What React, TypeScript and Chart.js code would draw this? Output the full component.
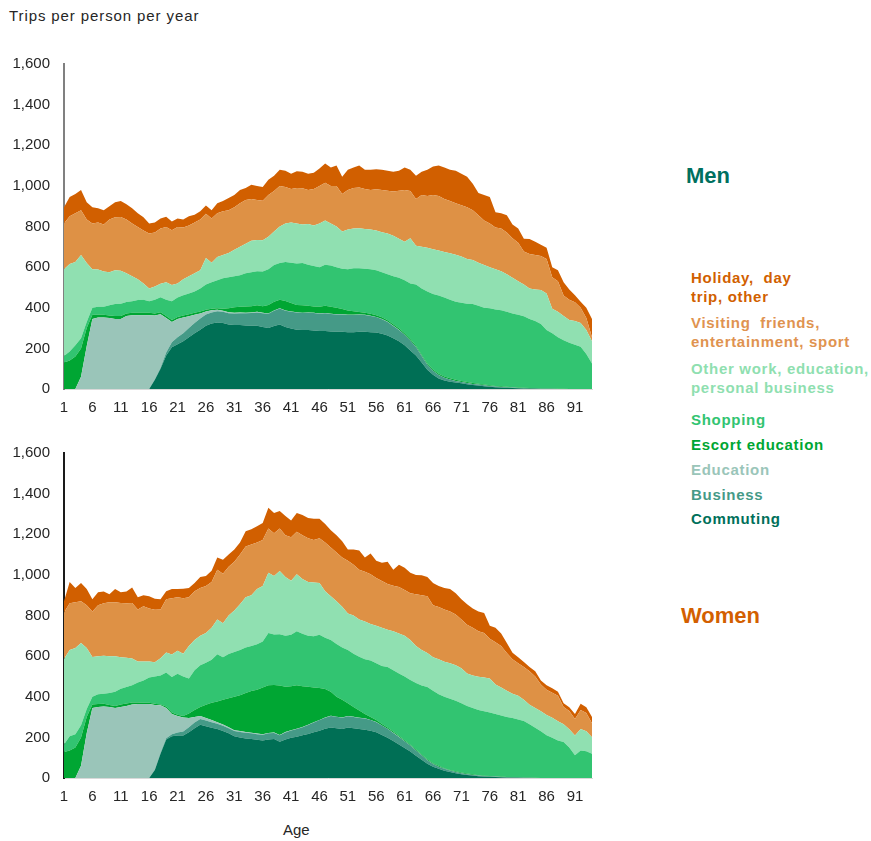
import React, { useEffect, useRef } from 'react';
import { Chart, registerables } from 'chart.js';

Chart.register(...registerables);

// Age categories (1..94)
const ages = [
  1, 2, 3, 4, 5, 6, 7, 8, 9, 10,
  11, 12, 13, 14, 15, 16, 17, 18, 19, 20,
  21, 22, 23, 24, 25, 26, 27, 28, 29, 30,
  31, 32, 33, 34, 35, 36, 37, 38, 39, 40,
  41, 42, 43, 44, 45, 46, 47, 48, 49, 50,
  51, 52, 53, 54, 55, 56, 57, 58, 59, 60,
  61, 62, 63, 64, 65, 66, 67, 68, 69, 70,
  71, 72, 73, 74, 75, 76, 77, 78, 79, 80,
  81, 82, 83, 84, 85, 86, 87, 88, 89, 90,
  91, 92, 93, 94,
];
const tickAges = [1, 6, 11, 16, 21, 26, 31, 36, 41, 46, 51, 56, 61, 66, 71, 76, 81, 86, 91];
const yTicks = [0, 200, 400, 600, 800, 1000, 1200, 1400, 1600];

const seriesNames = [
  'Commuting',
  'Business',
  'Education',
  'Escort education',
  'Shopping',
  'Other work, education, personal business',
  'Visiting friends, entertainment, sport',
  'Holiday, day trip, other',
];
const seriesColors = ['#006f55', '#459a87', '#9ac5b9', '#00a633', '#32c471', '#90e0b1', '#de9145', '#d15f00'];

// ---------------- Men (trips per person per year) ----------------
const menCommuting = [
  0, 0, 0, 0, 0, 0, 0, 0, 0, 0,
  0, 0, 0, 0, 0, 0, 45, 100, 165, 205,
  220, 235, 255, 275, 292, 312, 322, 328, 325, 318,
  315, 315, 313, 312, 312, 305, 300, 310, 318, 305,
  298, 292, 290, 290, 288, 285, 285, 283, 282, 282,
  280, 280, 282, 282, 280, 278, 272, 264, 250, 235,
  215, 190, 165, 130, 95, 70, 52, 42, 36, 32,
  28, 24, 20, 17, 14, 11, 9, 7, 6, 5,
  4, 3, 2, 2, 1, 1, 1, 0, 0, 0,
  0, 0, 0, 0,
];
const menBusiness = [
  0, 0, 0, 0, 0, 0, 0, 0, 0, 0,
  0, 0, 0, 0, 0, 0, 3, 5, 15, 25,
  35, 40, 45, 50, 55, 55, 55, 55, 55, 55,
  57, 58, 60, 62, 65, 68, 70, 75, 78, 80,
  82, 85, 85, 86, 86, 86, 88, 86, 85, 85,
  84, 84, 84, 82, 80, 76, 72, 66, 60, 56,
  52, 49, 42, 32, 24, 20, 17, 14, 11, 8,
  7, 6, 5, 5, 4, 4, 3, 3, 2, 2,
  1, 1, 1, 1, 0, 0, 0, 0, 0, 0,
  0, 0, 0, 0,
];
const menEducation = [
  0, 0, 0, 60, 210, 345, 352, 352, 350, 345,
  345, 360, 363, 363, 363, 363, 314, 263, 170, 100,
  90, 77, 58, 40, 25, 15, 11, 7, 5, 5,
  4, 4, 3, 3, 3, 2, 2, 2, 2, 2,
  1, 1, 1, 1, 1, 1, 1, 1, 1, 1,
  1, 1, 1, 1, 1, 1, 1, 1, 1, 1,
  0, 0, 0, 0, 0, 0, 0, 0, 0, 0,
  0, 0, 0, 0, 0, 0, 0, 0, 0, 0,
  0, 0, 0, 0, 0, 0, 0, 0, 0, 0,
  0, 0, 0, 0,
];
const menEscort = [
  130, 140, 160, 140, 90, 20, 13, 13, 12, 15,
  15, 12, 12, 12, 12, 12, 10, 10, 10, 10,
  10, 10, 10, 10, 10, 8, 7, 8, 10, 20,
  26, 28, 30, 31, 32, 33, 42, 42, 41, 46,
  43, 36, 36, 33, 31, 33, 36, 35, 32, 26,
  22, 18, 12, 10, 9, 8, 8, 8, 8, 7,
  7, 7, 6, 6, 6, 6, 6, 6, 6, 5,
  5, 5, 5, 4, 4, 4, 3, 3, 3, 2,
  2, 2, 2, 1, 1, 1, 1, 1, 1, 0,
  0, 0, 0, 0,
];
const menShopping = [
  32, 45, 55, 50, 30, 35, 40, 40, 50, 58,
  60, 56, 57, 63, 65, 57, 68, 74, 80, 92,
  95, 100, 102, 105, 113, 125, 130, 137, 150, 152,
  153, 155, 164, 167, 168, 170, 176, 181, 181, 192,
  198, 204, 208, 202, 199, 195, 202, 203, 200, 198,
  203, 212, 216, 217, 220, 222, 222, 226, 236, 249,
  261, 274, 302, 327, 355, 372, 385, 388, 387, 385,
  385, 385, 388, 384, 378, 379, 377, 375, 369, 363,
  358, 352, 340, 331, 318, 288, 273, 254, 239, 228,
  218, 208, 172, 125,
];
const menOtherWork = [
  428, 430, 410, 410, 290, 190, 183, 173, 163, 167,
  162, 142, 123, 102, 80, 63, 65, 66, 85, 80,
  70, 78, 85, 90, 90, 130, 97, 115, 115, 120,
  130, 140, 145, 155, 153, 154, 160, 165, 180, 190,
  198, 197, 190, 200, 200, 215, 218, 207, 200, 183,
  195, 195, 197, 196, 195, 195, 197, 200, 200, 192,
  190, 222, 190, 205, 215, 220, 222, 225, 228, 231,
  227, 220, 217, 212, 210, 202, 198, 192, 185, 176,
  165, 157, 150, 155, 167, 180, 120, 125, 120, 112,
  117, 117, 118, 110,
];
const menVisiting = [
  225, 235, 240, 220, 215, 225, 232, 232, 260, 260,
  265, 265, 260, 258, 260, 271, 265, 272, 273, 270,
  278, 255, 250, 250, 250, 218, 218, 215, 215, 210,
  210, 215, 215, 205, 197, 195, 205, 200, 200, 180,
  165, 175, 178, 168, 180, 185, 186, 185, 200, 185,
  195, 200, 200, 197, 195, 203, 208, 211, 217, 236,
  255, 233, 230, 255, 255, 267, 268, 260, 257, 254,
  253, 255, 245, 233, 220, 215, 205, 210, 205, 194,
  190, 162, 170, 170, 168, 170, 155, 150, 100, 100,
  92, 75, 60, 20,
];
const menHoliday = [
  80, 95, 95, 100, 85, 80, 70, 70, 65, 75,
  78, 75, 75, 67, 65, 49, 50, 50, 50, 43,
  42, 40, 45, 38, 40, 40, 40, 50, 50, 60,
  60, 65, 60, 70, 70, 68, 75, 75, 80, 80,
  75, 82, 82, 80, 80, 85, 94, 90, 100, 85,
  100, 100, 108, 95, 100, 99, 100, 99, 98, 99,
  110, 105, 115, 115, 130, 140, 150, 155, 155, 160,
  155, 150, 130, 110, 125, 130, 75, 75, 85, 68,
  70, 63, 73, 65, 55, 55, 50, 55, 65, 50,
  35, 30, 50, 90,
];

// ---------------- Women (trips per person per year) ----------------
const womenCommuting = [
  0, 0, 0, 0, 0, 0, 0, 0, 0, 0,
  0, 0, 0, 0, 0, 0, 40, 120, 190, 205,
  209, 209, 225, 245, 262, 255, 248, 241, 232, 220,
  205, 200, 195, 192, 188, 185, 190, 192, 178, 190,
  198, 203, 210, 217, 225, 233, 242, 249, 245, 241,
  249, 245, 241, 238, 233, 225, 212, 198, 182, 165,
  148, 130, 110, 90, 70, 55, 45, 36, 30, 24,
  19, 15, 12, 9, 7, 6, 5, 4, 3, 2,
  2, 1, 1, 0, 0, 0, 0, 0, 0, 0,
  0, 0, 0, 0,
];
const womenBusiness = [
  0, 0, 0, 0, 0, 0, 0, 0, 0, 0,
  0, 0, 0, 0, 0, 0, 2, 4, 6, 10,
  15, 20, 25, 28, 28, 28, 27, 26, 25, 25,
  26, 27, 28, 28, 28, 28, 30, 30, 32, 34,
  36, 38, 40, 44, 48, 52, 55, 56, 56, 56,
  55, 55, 55, 55, 52, 50, 46, 44, 40, 37,
  33, 30, 26, 22, 18, 14, 11, 9, 7, 6,
  5, 4, 3, 3, 2, 2, 2, 1, 1, 1,
  0, 0, 0, 0, 0, 0, 0, 0, 0, 0,
  0, 0, 0, 0,
];
const womenEducation = [
  0, 0, 0, 60, 220, 345, 350, 352, 350, 345,
  350, 355, 362, 364, 364, 364, 318, 234, 149, 100,
  81, 69, 45, 27, 15, 12, 10, 8, 6, 5,
  4, 4, 3, 3, 3, 2, 2, 2, 2, 2,
  1, 1, 1, 1, 1, 1, 1, 1, 1, 1,
  1, 1, 1, 1, 1, 1, 1, 1, 1, 1,
  0, 0, 0, 0, 0, 0, 0, 0, 0, 0,
  0, 0, 0, 0, 0, 0, 0, 0, 0, 0,
  0, 0, 0, 0, 0, 0, 0, 0, 0, 0,
  0, 0, 0, 0,
];
const womenEscort = [
  128, 135, 150, 140, 80, 17, 14, 13, 10, 10,
  12, 12, 10, 8, 7, 6, 6, 4, 7, 7,
  7, 7, 23, 35, 45, 66, 85, 102, 122, 143,
  165, 177, 192, 205, 216, 230, 235, 234, 243, 223,
  217, 215, 201, 187, 171, 157, 140, 119, 98, 87,
  63, 49, 35, 21, 14, 9, 7, 6, 6, 5,
  5, 4, 4, 4, 4, 4, 4, 3, 3, 3,
  3, 3, 3, 2, 2, 2, 2, 2, 1, 1,
  1, 1, 1, 1, 0, 0, 0, 0, 0, 0,
  0, 0, 0, 0,
];
const womenShopping = [
  37, 70, 65, 60, 40, 38, 48, 50, 58, 70,
  78, 81, 85, 98, 109, 125, 134, 143, 168, 175,
  201, 195, 172, 195, 205, 207, 212, 232, 209, 217,
  220, 222, 224, 222, 223, 227, 257, 248, 253, 251,
  253, 265, 258, 251, 253, 262, 252, 255, 260, 257,
  262, 262, 265, 270, 278, 280, 286, 297, 301, 307,
  314, 318, 328, 340, 356, 357, 352, 352, 350, 347,
  341, 333, 327, 321, 318, 312, 306, 301, 295, 291,
  285, 279, 263, 247, 230, 210, 198, 185, 177, 150,
  112, 136, 132, 120,
];
const womenOtherWork = [
  421, 425, 425, 405, 300, 196, 188, 187, 182, 175,
  155, 144, 131, 103, 94, 78, 70, 85, 98, 111,
  113, 112, 160, 150, 145, 146, 158, 171, 168, 190,
  205, 225, 248, 250, 272, 273, 296, 289, 311, 290,
  266, 281, 270, 265, 265, 255, 230, 215, 210, 201,
  180, 188, 183, 185, 180, 185, 188, 184, 192, 197,
  200, 198, 182, 174, 167, 165, 173, 172, 175, 175,
  172, 160, 160, 163, 166, 168, 145, 137, 130, 120,
  117, 104, 96, 97, 99, 100, 99, 95, 88, 90,
  97, 105, 98, 81,
];
const womenVisiting = [
  229, 230, 225, 205, 210, 224, 250, 258, 265, 265,
  267, 268, 274, 257, 271, 262, 258, 240, 262, 277,
  264, 273, 240, 240, 235, 231, 225, 245, 243, 240,
  240, 245, 250, 250, 230, 227, 218, 210, 209, 205,
  214, 209, 215, 215, 209, 220, 240, 240, 240, 242,
  260, 250, 245, 245, 245, 235, 230, 225, 225, 228,
  225, 230, 255, 270, 280, 255, 257, 258, 255, 250,
  240, 240, 235, 224, 219, 195, 208, 205, 185, 170,
  160, 161, 164, 155, 131, 125, 123, 125, 85, 90,
  81, 94, 90, 69,
];
const womenHoliday = [
  55, 105, 70, 90, 80, 60, 65, 58, 40, 65,
  53, 58, 76, 60, 55, 60, 55, 50, 40, 45,
  40, 47, 45, 40, 55, 50, 55, 60, 70, 60,
  60, 60, 75, 75, 80, 83, 102, 100, 87, 95,
  83, 93, 100, 100, 104, 96, 90, 85, 85, 80,
  55, 75, 95, 70, 102, 85, 90, 110, 78, 110,
  110, 100, 95, 98, 95, 110, 103, 105, 110, 105,
  100, 100, 95, 98, 98, 65, 72, 62, 50, 32,
  30, 25, 22, 25, 20, 22, 22, 20, 18, 18,
  25, 30, 28, 30,
];

const menSeries = [menCommuting, menBusiness, menEducation, menEscort, menShopping, menOtherWork, menVisiting, menHoliday];
const womenSeries = [womenCommuting, womenBusiness, womenEducation, womenEscort, womenShopping, womenOtherWork, womenVisiting, womenHoliday];

const FONT = "'Liberation Sans', Arial, Helvetica, sans-serif";

function StackedChart({ series, axisColor, top }: { series: number[][]; axisColor: string; top: number }) {
  const ref = useRef<HTMLCanvasElement | null>(null);
  useEffect(() => {
    if (!ref.current) return;
    const chart = new Chart(ref.current, {
      type: 'line',
      data: {
        labels: ages.map(String),
        datasets: series.map((values, i) => ({
          label: seriesNames[i],
          data: values,
          backgroundColor: seriesColors[i],
          borderColor: seriesColors[i],
          borderWidth: 0,
          pointRadius: 0,
          pointHoverRadius: 0,
          tension: 0,
          fill: i === 0 ? 'origin' : '-1',
        })),
      },
      options: {
        responsive: false,
        animation: false,
        events: [],
        layout: { padding: { top: 16, right: 0, left: 0, bottom: 0 } },
        plugins: { legend: { display: false }, tooltip: { enabled: false }, title: { display: false } },
        scales: {
          x: {
            type: 'category',
            grid: { display: false, drawTicks: false },
            border: { display: true, color: '#d9d9d9', width: 1 },
            ticks: {
              autoSkip: false,
              maxRotation: 0,
              minRotation: 0,
              padding: 10,
              color: '#262626',
              font: { family: FONT, size: 15 },
              callback: (_v: any, i: number) => (tickAges.includes(ages[i]) ? String(ages[i]) : ''),
            },
            afterFit: (s: any) => {
              s.height = 36;
            },
          },
          y: {
            stacked: true,
            min: 0,
            max: 1600,
            z: 1,
            afterBuildTicks: (s: any) => {
              s.ticks = yTicks.map((v) => ({ value: v }));
            },
            ticks: {
              padding: 14,
              color: '#262626',
              font: { family: FONT, size: 15 },
              callback: (v: any) => Number(v).toLocaleString('en-US'),
            },
            grid: { display: false, drawTicks: false },
            border: { display: true, color: axisColor, width: 2 },
            afterFit: (s: any) => {
              s.width = 64;
            },
          },
        },
      },
    } as any);
    return () => chart.destroy();
  }, [series, axisColor]);
  return (
    <canvas
      ref={ref}
      width={602}
      height={384}
      style={{ position: 'absolute', left: 0, top, width: 602, height: 384, display: 'block' }}
    />
  );
}

const legendItems: { lines: string[]; color: string; top: number }[] = [
  { lines: ['Holiday,  day', 'trip, other'], color: '#d15f00', top: 268 },
  { lines: ['Visiting  friends,', 'entertainment, sport'], color: '#df9350', top: 313 },
  { lines: ['Other work, education,', 'personal business'], color: '#8fdfb0', top: 359 },
  { lines: ['Shopping'], color: '#32c471', top: 410 },
  { lines: ['Escort education'], color: '#00a633', top: 435 },
  { lines: ['Education'], color: '#9ac5b9', top: 460 },
  { lines: ['Business'], color: '#459a87', top: 485 },
  { lines: ['Commuting'], color: '#00705a', top: 509 },
];

export default function App() {
  return (
    <div
      style={{
        position: 'absolute',
        left: 0,
        top: 0,
        width: 871,
        height: 841,
        background: '#ffffff',
        fontFamily: FONT,
        overflow: 'hidden',
      }}
    >
      <div style={{ position: 'absolute', left: 9, top: 7, fontSize: 15, lineHeight: '18px', color: '#262626', letterSpacing: 0.9 }}>
        Trips per person per year
      </div>
      <StackedChart series={menSeries} axisColor="#808080" top={41} />
      <StackedChart series={womenSeries} axisColor="#1a1a1a" top={430} />
      <div style={{ position: 'absolute', left: 283, top: 821, fontSize: 15, lineHeight: '18px', color: '#262626' }}>Age</div>
      <div style={{ position: 'absolute', left: 686, top: 163, fontSize: 22, lineHeight: '26px', fontWeight: 'bold', color: '#00705f' }}>
        Men
      </div>
      <div style={{ position: 'absolute', left: 681, top: 603, fontSize: 22, lineHeight: '26px', fontWeight: 'bold', color: '#d35f00' }}>
        Women
      </div>
      {legendItems.map((it) => (
        <div
          key={it.lines.join(' ')}
          style={{
            position: 'absolute',
            left: 691,
            top: it.top,
            fontSize: 15,
            lineHeight: '19px',
            fontWeight: 'bold',
            color: it.color,
            whiteSpace: 'pre',
            letterSpacing: 0.7,
          }}
        >
          {it.lines.map((l) => (
            <div key={l}>{l}</div>
          ))}
        </div>
      ))}
    </div>
  );
}
